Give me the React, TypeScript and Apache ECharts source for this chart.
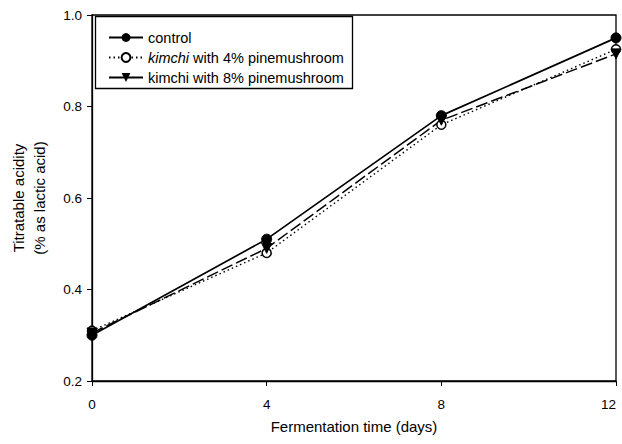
import React, { useEffect, useRef } from "react";
import * as echarts from "echarts";

// Fermentation time (days)
const days = [0, 4, 8, 12];
// Titratable acidity (% as lactic acid)
const control = [0.3, 0.51, 0.78, 0.95];
const pine4 = [0.31, 0.48, 0.76, 0.925];
const pine8 = [0.305, 0.49, 0.77, 0.915];

const yTicks = [0.2, 0.4, 0.6, 0.8, 1.0];
const xTicks = [0, 4, 8, 12];

const FONT = "Liberation Sans, Arial, sans-serif";

const pair = (vals: number[]) => days.map((d, i) => [d, vals[i]]);

export default function App() {
  const ref = useRef<HTMLDivElement>(null);

  useEffect(() => {
    if (!ref.current) return;
    const chart = echarts.init(ref.current, null, { renderer: "svg" });
    const black = "#000";
    chart.setOption({
      animation: false,
      backgroundColor: "#fff",
      textStyle: { fontFamily: FONT, color: black },
      grid: {
        left: 92,
        right: 6,
        top: 15,
        bottom: 63,
        containLabel: false,
        outerBoundsMode: "none",
        show: true,
        borderColor: black,
        borderWidth: 1.3,
      },
      graphic: [
        {
          type: "rect",
          shape: { x: 95.5, y: 16.5, width: 257, height: 72 },
          style: { fill: "#fff", stroke: black, lineWidth: 1.3 },
          z: 5,
        },
      ],
      legend: {
        orient: "vertical",
        left: 103,
        top: 25,
        itemWidth: 34,
        itemHeight: 11,
        itemGap: 5,
        z: 10,
        textStyle: {
          fontFamily: FONT,
          fontSize: 14.5,
          color: black,
          rich: {
            it: { fontStyle: "italic", fontFamily: FONT, fontSize: 14.5, color: black },
            n: { fontFamily: FONT, fontSize: 14.5, color: black },
          },
        },
        data: [
          { name: "control" },
          { name: "kimchi with 4% pinemushroom" },
          { name: "kimchi with 8% pinemushroom ", lineStyle: { type: "solid" } },
        ],
        formatter: (name: string) =>
          name === "kimchi with 4% pinemushroom"
            ? "{it|kimchi}{n| with 4% pinemushroom}"
            : name,
      },
      xAxis: {
        type: "value",
        min: 0,
        max: 12,
        interval: 4,
        name: "Fermentation time (days)",
        nameLocation: "middle",
        nameGap: 38,
        nameTextStyle: { fontFamily: FONT, fontSize: 15, color: black },
        axisLine: { lineStyle: { color: black, width: 1.3 } },
        axisTick: { show: true, inside: false, length: 5, lineStyle: { color: black } },
        axisLabel: {
          margin: 16,
          fontFamily: FONT,
          fontSize: 13.5,
          color: black,
          customValues: xTicks,
          alignMaxLabel: "right",
        },
        splitLine: { show: false },
      },
      yAxis: {
        type: "value",
        min: 0.2,
        max: 1.0,
        interval: 0.2,
        name: "Titratable acidity\n(% as lactic acid)",
        nameLocation: "middle",
        nameGap: 42,
        nameTextStyle: { fontFamily: FONT, fontSize: 15, color: black, lineHeight: 21 },
        axisLine: { show: true, lineStyle: { color: black, width: 1.3 } },
        axisTick: { show: true, inside: false, length: 5, lineStyle: { color: black } },
        axisLabel: {
          margin: 10,
          fontFamily: FONT,
          fontSize: 13.5,
          color: black,
          formatter: (v: number) => {
            const hit = yTicks.find((t) => Math.abs(t - v) < 1e-6);
            return hit !== undefined ? hit.toFixed(1) : "";
          },
        },
        splitLine: { show: false },
      },
      series: [
        {
          name: "control",
          type: "line",
          data: pair(control),
          symbol: "circle",
          symbolSize: 10,
          itemStyle: { color: black, borderColor: black },
          lineStyle: { color: black, width: 1.7, type: "solid" },
          z: 4,
        },
        {
          name: "kimchi with 4% pinemushroom",
          type: "line",
          data: pair(pine4),
          symbol: "circle",
          symbolSize: 9,
          itemStyle: { color: "#fff", borderColor: black, borderWidth: 1.5 },
          lineStyle: { color: black, width: 1.4, type: [1.5, 3] },
          z: 3,
        },
        {
          name: "kimchi with 8% pinemushroom ",
          type: "line",
          data: pair(pine8),
          symbol: "triangle",
          symbolRotate: 180,
          symbolSize: 10,
          itemStyle: { color: black, borderColor: black },
          lineStyle: { color: black, width: 1.5, type: [12, 4] },
          z: 3,
        },
      ],
    });
    return () => chart.dispose();
  }, []);

  return (
    <div
      ref={ref}
      style={{ position: "fixed", left: 0, top: 0, width: 622, height: 444 }}
    />
  );
}
